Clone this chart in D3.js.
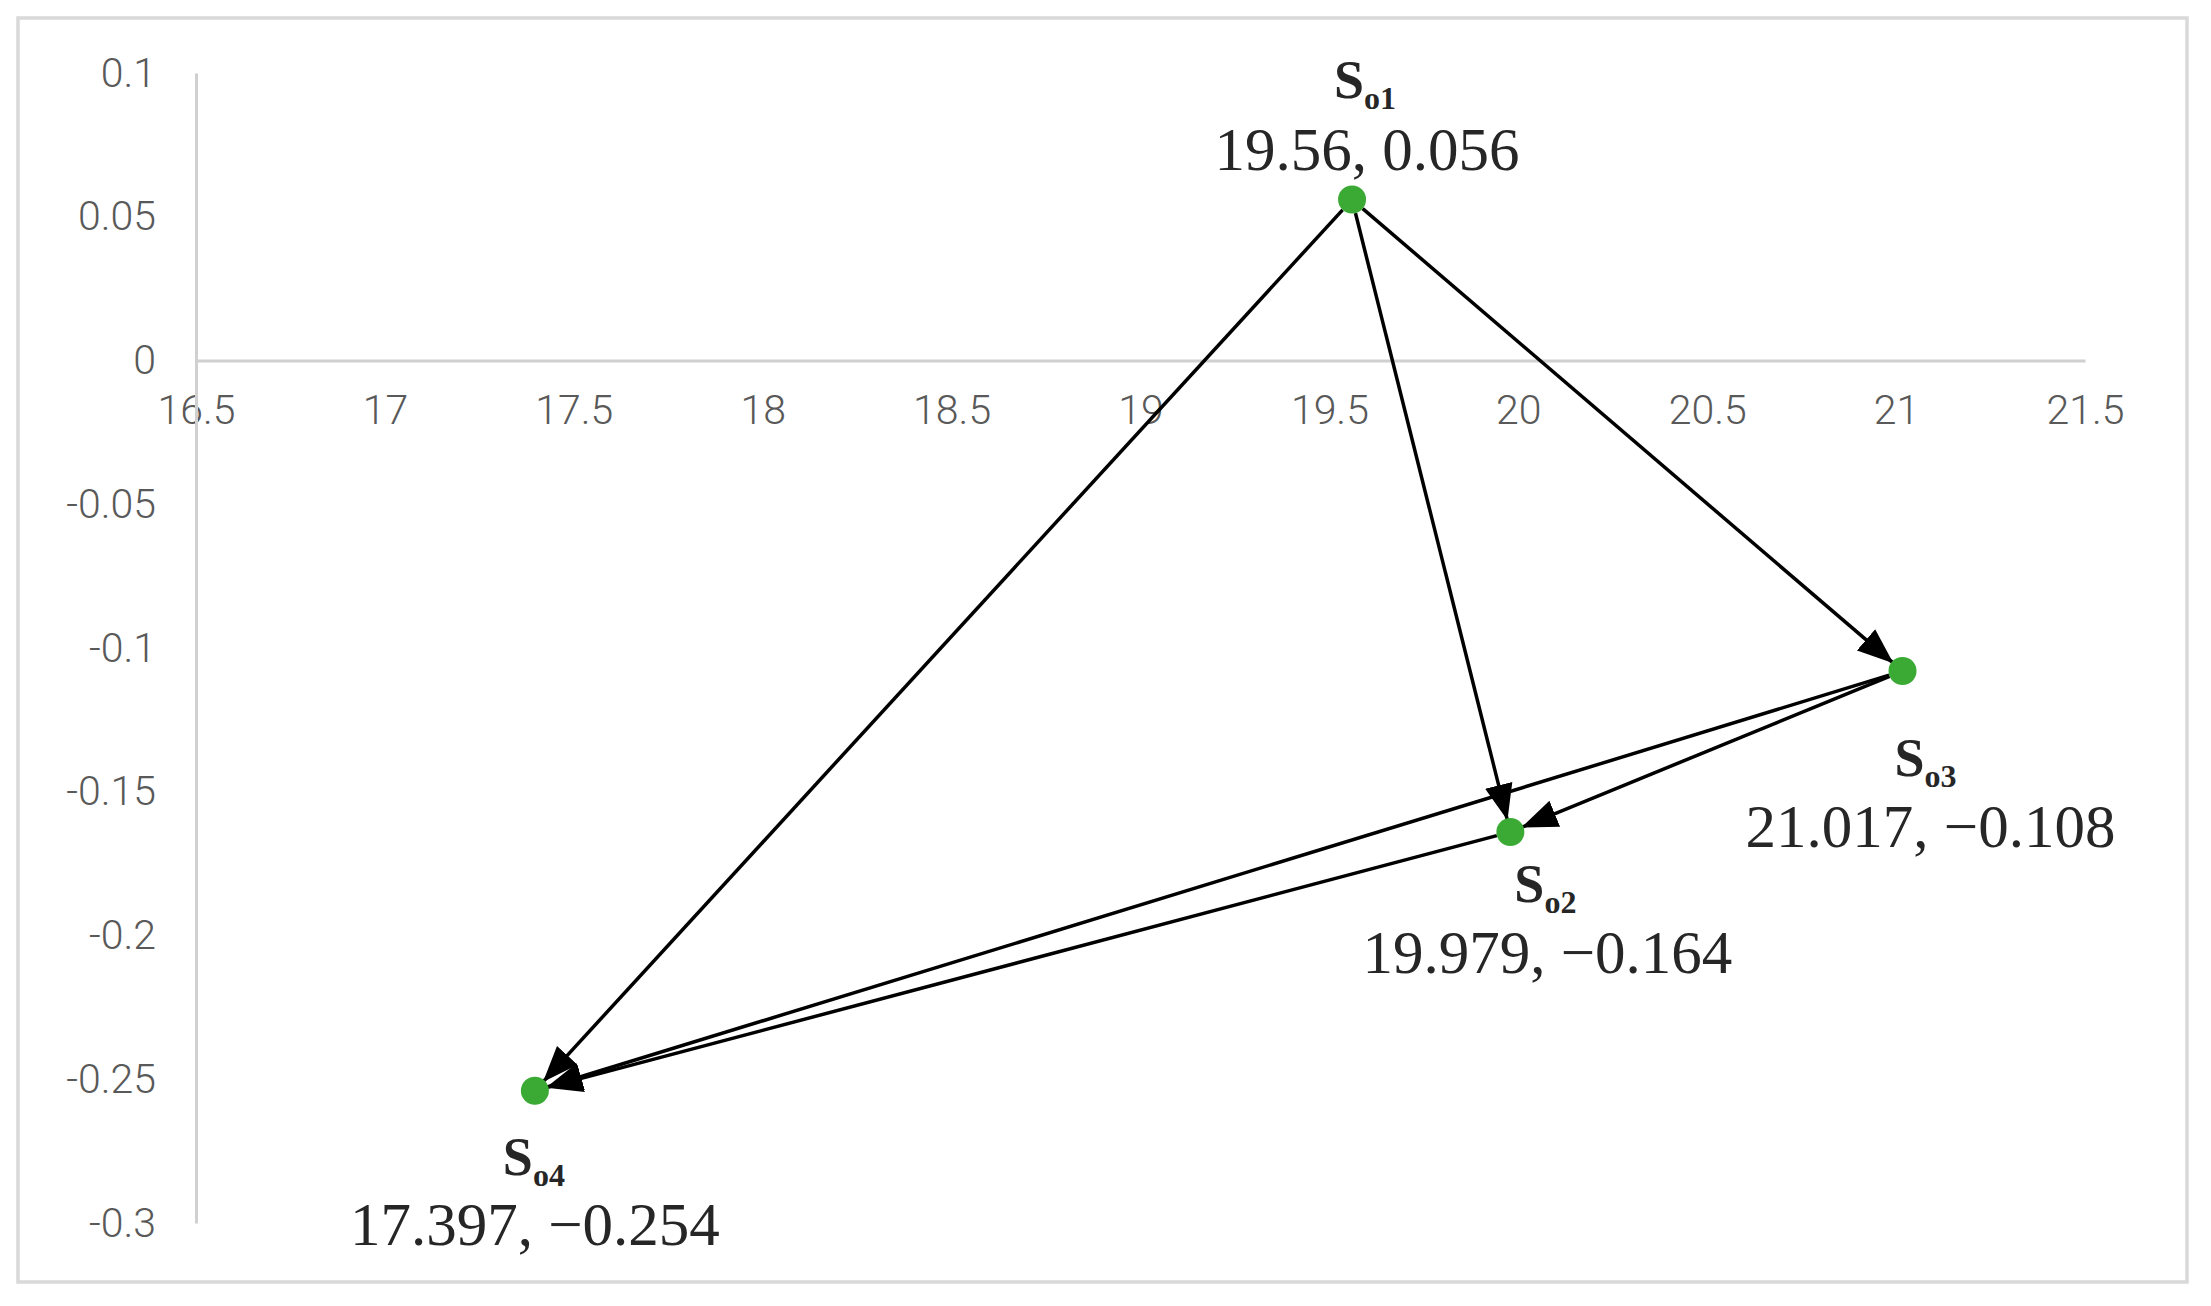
<!DOCTYPE html>
<html>
<head>
<meta charset="utf-8">
<script src="https://cdn.jsdelivr.net/npm/d3@7"></script>
<style>
  body { margin: 0; background: #fff; }
  svg { display: block; }
</style>
</head>
<body>
<svg width="2211" height="1306"></svg>
<script>
// points (x, y)
var pointNames = ['o1', 'o2', 'o3', 'o4'];
var pointX = [19.56, 19.979, 21.017, 17.397];
var pointY = [0.056, -0.164, -0.108, -0.254];

// arrows: from -> to (indexes into the point arrays)
var arrowFrom = [0, 0, 0, 2, 2, 1];
var arrowTo   = [3, 1, 2, 1, 3, 3];

var xTicks = [16.5, 17, 17.5, 18, 18.5, 19, 19.5, 20, 20.5, 21, 21.5];
var yTicks = [0.1, 0.05, 0, -0.05, -0.1, -0.15, -0.2, -0.25, -0.3];

// label placement relative to each point: [dxName, dyName, dxValue, dyValue]
var labelOffsets = [[13, -102, 15, -30], [35, 70, 37, 141], [23, 105, 28, 176], [-1, 84, 0, 154]];

var svg = d3.select('svg');
var width = +svg.attr('width');
var height = +svg.attr('height');

var x = d3.scaleLinear().domain([16.5, 21.5]).range([196, 2085]);
var y = d3.scaleLinear().domain([-0.3, 0.1]).range([1223, 73]);

svg.append('rect')
  .attr('x', 18).attr('y', 18)
  .attr('width', 2169).attr('height', 1264)
  .attr('fill', '#fff')
  .attr('stroke', '#d9d9d9')
  .attr('stroke-width', 3.5);

var fmt = function(d) { return String(+d.toFixed(2)); };

var xAxis = svg.append('g')
  .attr('transform', 'translate(0,' + y(0) + ')')
  .call(d3.axisBottom(x).tickValues(xTicks).tickSize(0).tickPadding(34).tickFormat(fmt));

var yAxis = svg.append('g')
  .attr('transform', 'translate(' + x(16.5) + ',0)')
  .call(d3.axisLeft(y).tickValues(yTicks).tickSize(0).tickPadding(40).tickFormat(fmt));

[xAxis, yAxis].forEach(function(ax) {
  ax.select('.domain').attr('stroke', '#d0d0d0').attr('stroke-width', 3);
  ax.selectAll('text')
    .attr('fill', '#595959')
    .style('font-family', 'Roboto, "Liberation Sans", sans-serif')
    .style('font-weight', 300)
    .style('font-size', '41px');
});

// arrowhead marker
svg.append('defs').append('marker')
  .attr('id', 'head')
  .attr('markerUnits', 'userSpaceOnUse')
  .attr('viewBox', '0 -15 36 30')
  .attr('refX', 36).attr('refY', 0)
  .attr('markerWidth', 36).attr('markerHeight', 30)
  .attr('orient', 'auto')
  .append('path')
  .attr('d', 'M0,-14L36,0L0,14Z')
  .attr('fill', '#000');

var r = 14;
var arrows = arrowFrom.map(function(f, i) {
  var t = arrowTo[i];
  var x1 = x(pointX[f]), y1 = y(pointY[f]);
  var x2 = x(pointX[t]), y2 = y(pointY[t]);
  var len = Math.sqrt((x2 - x1) * (x2 - x1) + (y2 - y1) * (y2 - y1));
  var ux = (x2 - x1) / len, uy = (y2 - y1) / len;
  return { x1: x1 + ux * r, y1: y1 + uy * r, x2: x2 - ux * (r - 2), y2: y2 - uy * (r - 2) };
});

svg.selectAll('line.arrow')
  .data(arrows)
  .enter().append('line')
  .attr('class', 'arrow')
  .attr('x1', function(d) { return d.x1; })
  .attr('y1', function(d) { return d.y1; })
  .attr('x2', function(d) { return d.x2; })
  .attr('y2', function(d) { return d.y2; })
  .attr('stroke', '#000')
  .attr('stroke-width', 3.5)
  .attr('marker-end', 'url(#head)');

svg.selectAll('circle.pt')
  .data(pointNames)
  .enter().append('circle')
  .attr('class', 'pt')
  .attr('cx', function(d, i) { return x(pointX[i]); })
  .attr('cy', function(d, i) { return y(pointY[i]); })
  .attr('r', r)
  .attr('fill', '#3aaa35');

var num = function(v) { return String(v).replace('-', '\u2212'); };

var names = svg.selectAll('text.name')
  .data(pointNames)
  .enter().append('text')
  .attr('class', 'name')
  .attr('x', function(d, i) { return x(pointX[i]) + labelOffsets[i][0]; })
  .attr('y', function(d, i) { return y(pointY[i]) + labelOffsets[i][1]; })
  .attr('text-anchor', 'middle')
  .attr('fill', '#262626')
  .style('font-family', '"Liberation Serif", "Times New Roman", serif')
  .style('font-weight', 'bold');
names.append('tspan').style('font-size', '54px').text('S');
names.append('tspan').style('font-size', '32px').attr('dy', 11).text(function(d) { return d; });

svg.selectAll('text.value')
  .data(pointNames)
  .enter().append('text')
  .attr('class', 'value')
  .attr('x', function(d, i) { return x(pointX[i]) + labelOffsets[i][2]; })
  .attr('y', function(d, i) { return y(pointY[i]) + labelOffsets[i][3]; })
  .attr('text-anchor', 'middle')
  .attr('fill', '#262626')
  .style('font-family', '"Liberation Serif", "Times New Roman", serif')
  .style('font-size', '61px')
  .text(function(d, i) { return num(pointX[i]) + ', ' + num(pointY[i]); });
</script>
</body>
</html>
